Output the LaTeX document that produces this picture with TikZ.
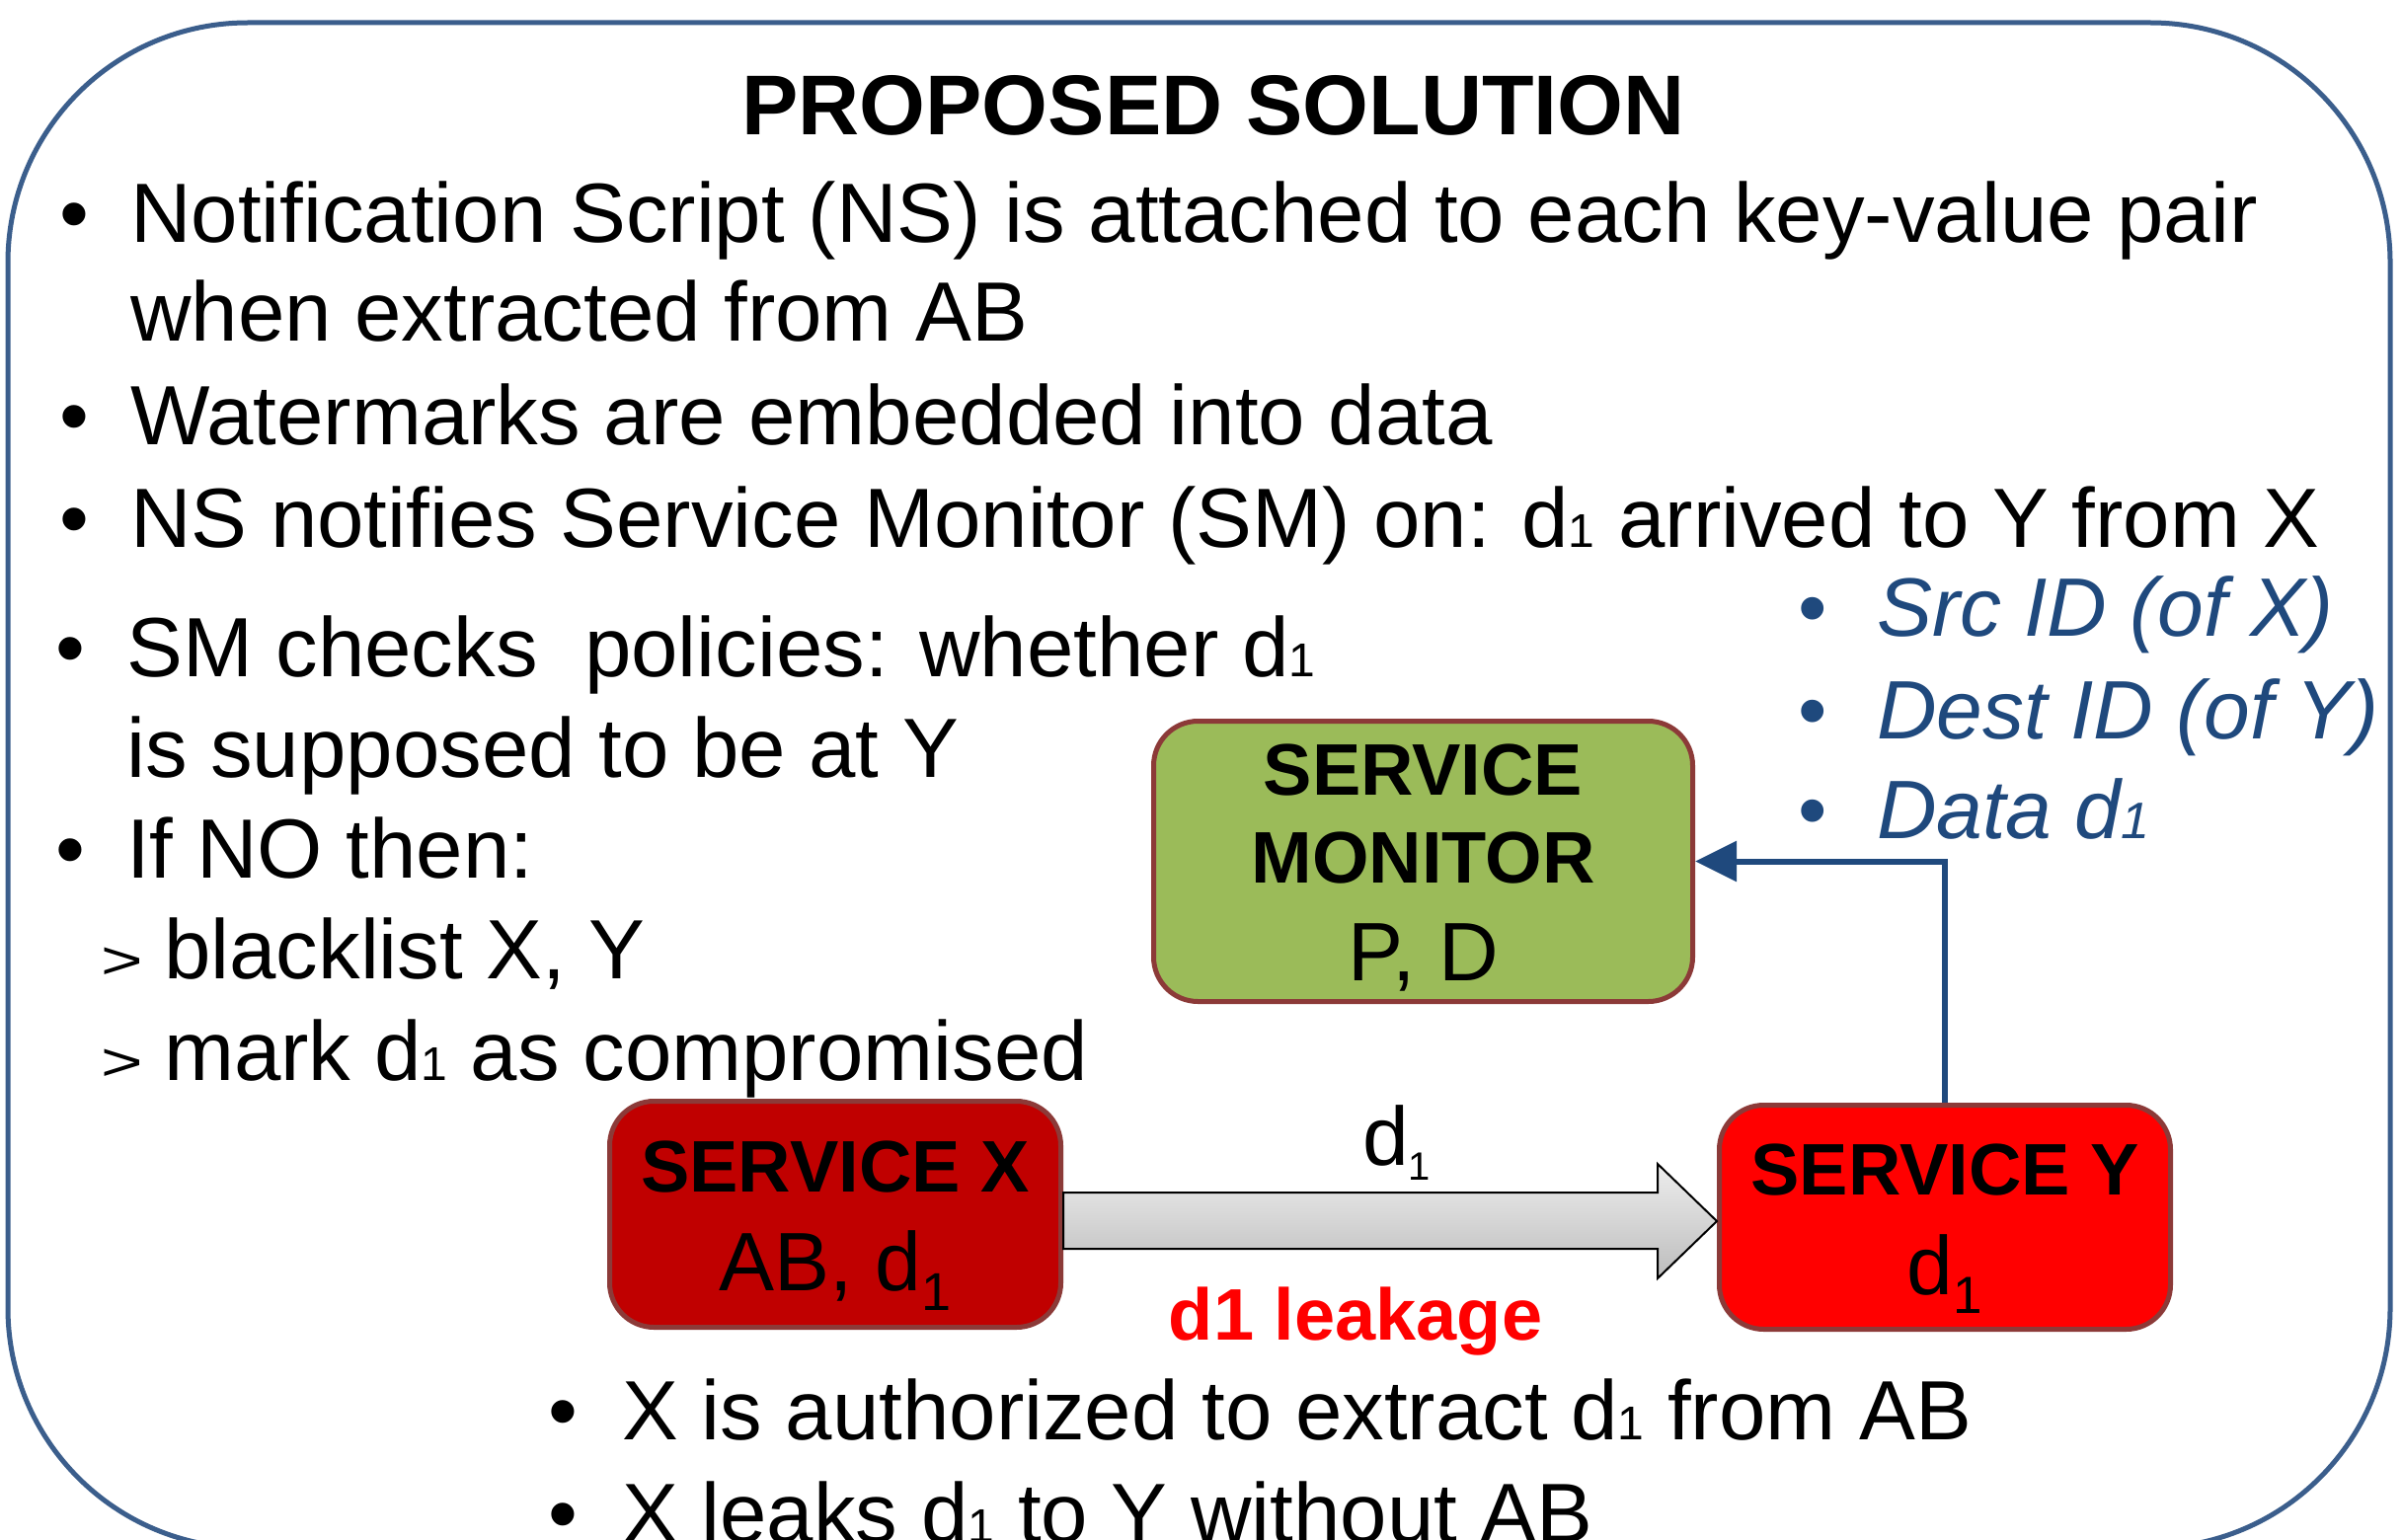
\documentclass[tikz,border=0pt]{standalone}
\usepackage{fontspec}
\usepackage{graphicx}
\setmainfont{Liberation Sans}
\usetikzlibrary{arrows.meta,calc}
\definecolor{frameblue}{RGB}{59,94,140}
\definecolor{textblue}{RGB}{31,73,125}
\definecolor{boxborder}{RGB}{140,58,56}
\definecolor{smgreen}{RGB}{155,187,89}
\definecolor{darkred}{RGB}{192,0,0}
\newcommand\bodysize{\fontsize{85.2}{100}\selectfont}
\newcommand\boxbold{\fontsize{74}{80}\selectfont\bfseries}
\newcommand\boxreg{\fontsize{84}{90}\selectfont}
\newcommand\sone{{\fontsize{48}{48}\selectfont 1}}
\newcommand\ione{{\fontsize{52}{52}\selectfont 1}}
\newcommand\subone[2]{\raisebox{-#1pt}{\fontsize{#2}{#2}\selectfont 1}}
\newcommand\gtmark{\scalebox{1.35}[1]{>}}
\begin{document}
\begin{tikzpicture}[x=1pt,y=-1pt,
  txt/.style={anchor=base west, inner sep=0pt, font=\bodysize},
  bul/.style={anchor=base, inner sep=0pt, font=\bodysize},
  gt/.style={anchor=base west, inner sep=0pt, font=\fontsize{54}{54}\selectfont},
  btxt/.style={anchor=base west, inner sep=0pt, font=\fontsize{84}{96}\selectfont\itshape, text=textblue},
  bbul/.style={anchor=base, inner sep=0pt, font=\fontsize{84}{96}\selectfont, text=textblue},
  svc/.style={draw=boxborder, line width=5pt, rounded corners=45pt, inner sep=0pt},
  lbl/.style={anchor=base, inner sep=0pt},
  blockarrow/.style={draw=black, line width=2pt, top color=black!7, bottom color=black!26, line join=miter},
  conn/.style={draw=textblue, line width=6pt, -{Triangle[length=42pt,width=40pt]}},
  frame/.style={draw=frameblue, line width=5pt, rounded corners=243pt}
]
\useasboundingbox (0,0) rectangle (2433,1560);
\clip (0,0) rectangle (2433,1560);
\fill[white] (0,0) rectangle (2433,1560);

% outer frame
\draw[frame] (8,23) rectangle (2421,1568);

% title
\node[lbl, font=\fontsize{86}{100}\selectfont\bfseries] (title) at (1229,136) {PROPOSED SOLUTION};

% body text
\node[bul] (b1) at (75,245) {•};
\node[txt] (t1) at (132,245) {Notification Script (NS) is attached to each key-value pair};
\node[txt] (t2) at (132,345) {when extracted from AB};
\node[bul] (b3) at (75,450) {•};
\node[txt] (t3) at (132,450) {Watermarks are embedded into data};
\node[bul] (b4) at (75,554) {•};
\node[txt] (t4) at (132,554) {NS notifies Service Monitor (SM) on: d\sone{} arrived to Y from X};
\node[bul] (b5) at (71,685) {•};
\node[txt] (t5) at (128,685) {SM checks\ \ policies: whether d\sone};
\node[txt] (t6) at (128,787) {is supposed to be at Y};
\node[bul] (b7) at (71,889) {•};
\node[txt] (t7) at (128,889) {If NO then:};
\node[gt] (g8) at (102,991) {\gtmark};
\node[txt] (t8) at (166,991) {blacklist X, Y};
\node[gt] (g9) at (102,1094) {\gtmark};
\node[txt] (t9) at (166,1094) {mark d\sone{} as compromised};

% blue list
\node[bbul] (c1) at (1836,644) {•};
\node[btxt] (s1) at (1901,644) {Src ID (of X)};
\node[bbul] (c2) at (1836,748) {•};
\node[btxt] (s2) at (1901,748) {Dest ID (of Y)};
\node[bbul] (c3) at (1836,849) {•};
\node[btxt] (s3) at (1901,849) {Data d\ione};

% boxes
\node[svc, fill=smgreen, minimum width=546pt, minimum height=284pt] (sm) at (1441.5,872.5) {};
\node[lbl, font=\boxbold] (sm1) at ($(sm.center)+(0,-67.5)$) {SERVICE};
\node[lbl, font=\boxbold] (sm2) at ($(sm.center)+(0,21.5)$) {MONITOR};
\node[lbl, font=\boxreg] (sm3) at ($(sm.center)+(0,120.5)$) {P, D};

\node[svc, fill=darkred, minimum width=457pt, minimum height=229pt] (sx) at (846,1230) {};
\node[lbl, font=\boxbold] (sx1) at ($(sx.center)+(0,-23)$) {SERVICE X};
\node[lbl, font=\boxreg] (sx2) at ($(sx.center)+(0,77)$) {AB, d\subone{20}{54}};

\node[svc, fill=red, minimum width=457pt, minimum height=227pt] (sy) at (1970,1233) {};
\node[lbl, font=\boxbold] (sy1) at ($(sy.center)+(0,-23)$) {SERVICE Y};
\node[lbl, font=\boxreg] (sy2) at ($(sy.center)+(0,78)$) {d\subone{19}{53}};

% block arrow X -> Y
\draw[blockarrow] (sx.east |- 0,1208) -- (1679,1208) -- (1679,1179) -- (sy.west |- 0,1237) -- (1679,1295) -- (1679,1265) -- (sx.east |- 0,1265) -- cycle;
\node[anchor=base west, inner sep=0pt, font=\fontsize{84}{90}\selectfont] (dl) at (1380,1180) {d\subone{15}{40}};
\node[lbl, font=\fontsize{74}{80}\selectfont\bfseries, text=red] (leak) at (1373,1357) {d1 leakage};

% connector Y -> SM
\draw[conn] (sy.north) |- (sm.east);

% bottom bullets
\node[bul] (e1) at (570,1458) {•};
\node[txt] (u1) at (630,1458) {X is authorized to extract d\sone{} from AB};
\node[bul] (e2) at (570,1562) {•};
\node[txt] (u2) at (630,1562) {X leaks d\sone{} to Y without AB};
\end{tikzpicture}
\end{document}
